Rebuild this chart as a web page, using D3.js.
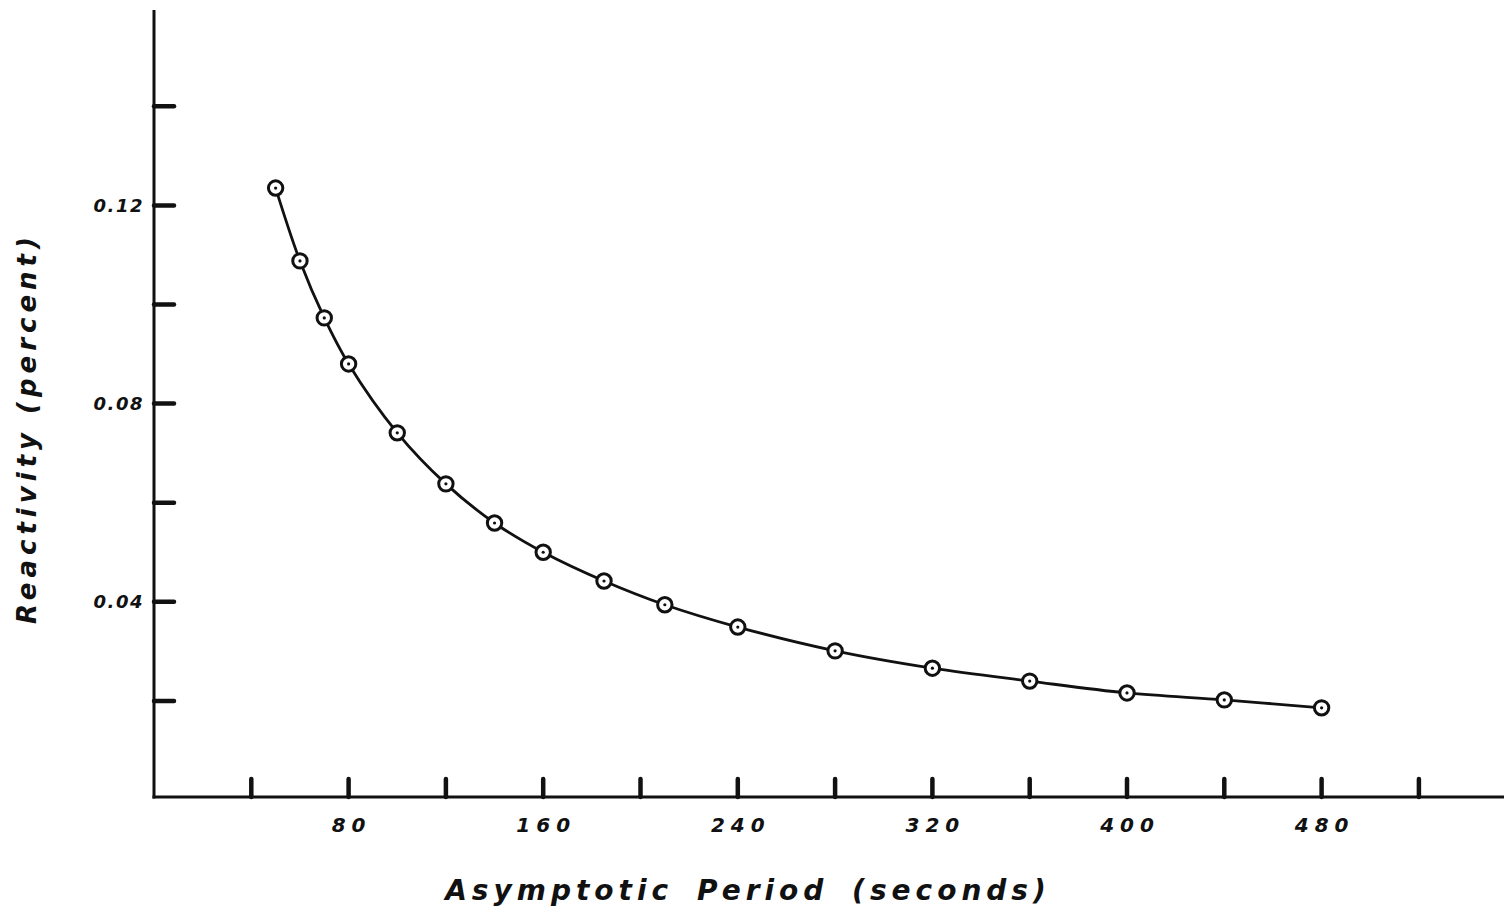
<!DOCTYPE html>
<html>
<head>
<meta charset="utf-8">
<script src="https://cdn.jsdelivr.net/npm/d3@7"></script>
<style>
  html, body { margin: 0; padding: 0; background: #fff; }
  svg { display: block; }
  text { font-family: "DejaVu Sans", sans-serif; font-style: italic; fill: #111; }
</style>
</head>
<body>
<div id="chart"></div>
<script>
// asymptotic period (s) and reactivity (percent)
const periods = [50, 60, 70, 80, 100, 120, 140, 160, 185, 210, 240, 280, 320, 360, 400, 440, 480];
const reactivity = [0.1235, 0.1088, 0.0973, 0.0880, 0.0741, 0.0638, 0.0559, 0.0500, 0.0442, 0.0394, 0.0349, 0.0301, 0.0266, 0.0240, 0.0216, 0.0202, 0.0186];

const xTicks = [40, 80, 120, 160, 200, 240, 280, 320, 360, 400, 440, 480, 520];
const xTickLabels = [80, 160, 240, 320, 400, 480];
const yTicks = [0.02, 0.04, 0.06, 0.08, 0.10, 0.12, 0.14];
const yTickLabels = [0.04, 0.08, 0.12];

document.addEventListener("DOMContentLoaded", function() {
    const width = 1504;
    const height = 916;
    const x0 = 154, y0 = 797;

    const svg = d3.select('#chart')
        .append('svg')
        .attr('width', width)
        .attr('height', height);

    const xScale = d3.scaleLinear().domain([0, 40]).range([x0, x0 + 97.3]);
    const yScale = d3.scaleLinear().domain([0, 0.02]).range([800, 800 - 99.1]);

    const ink = '#111';

    // axes lines
    svg.append('line')
        .attr('x1', x0).attr('x2', x0)
        .attr('y1', 10).attr('y2', y0 + 1.5)
        .attr('stroke', ink).attr('stroke-width', 3);
    svg.append('line')
        .attr('x1', x0 - 1.5).attr('x2', width)
        .attr('y1', y0).attr('y2', y0)
        .attr('stroke', ink).attr('stroke-width', 3);

    // y ticks point inward
    svg.append('g').selectAll('line')
        .data(yTicks)
        .join('line')
        .attr('x1', x0).attr('x2', x0 + 20)
        .attr('y1', d => yScale(d)).attr('y2', d => yScale(d))
        .attr('stroke', ink).attr('stroke-width', 4.5)
        .attr('stroke-linecap', 'round');

    svg.append('g').selectAll('text')
        .data(yTickLabels)
        .join('text')
        .attr('x', x0 - 10)
        .attr('y', d => yScale(d))
        .attr('dy', '0.36em')
        .attr('text-anchor', 'end')
        .attr('font-size', 18)
        .attr('font-weight', 'bold')
        .attr('letter-spacing', 1.5)
        .text(d => d.toFixed(2));

    // x ticks point up
    svg.append('g').selectAll('line')
        .data(xTicks)
        .join('line')
        .attr('x1', d => xScale(d)).attr('x2', d => xScale(d))
        .attr('y1', y0).attr('y2', y0 - 18)
        .attr('stroke', ink).attr('stroke-width', 4.5)
        .attr('stroke-linecap', 'round');

    svg.append('g').selectAll('text')
        .data(xTickLabels)
        .join('text')
        .attr('x', d => xScale(d) + 3)
        .attr('y', 832)
        .attr('text-anchor', 'middle')
        .attr('font-size', 20)
        .attr('font-weight', 'bold')
        .attr('letter-spacing', 6)
        .text(d => d);

    // axis titles
    svg.append('text')
        .attr('x', 748)
        .attr('y', 900)
        .attr('text-anchor', 'middle')
        .attr('font-size', 28)
        .attr('font-weight', 'bold')
        .attr('letter-spacing', 5)
        .attr('word-spacing', 9)
        .text('Asymptotic Period (seconds)');

    svg.append('text')
        .attr('transform', 'translate(36,428) rotate(-90)')
        .attr('text-anchor', 'middle')
        .attr('font-size', 26)
        .attr('font-weight', 'bold')
        .attr('letter-spacing', 5)
        .text('Reactivity (percent)');

    // curve
    const data = periods.map((p, i) => ({ p: p, r: reactivity[i] }));

    const line = d3.line()
        .x(d => xScale(d.p))
        .y(d => yScale(d.r))
        .curve(d3.curveCatmullRom);

    svg.append('path')
        .datum(data)
        .attr('d', line)
        .attr('fill', 'none')
        .attr('stroke', ink)
        .attr('stroke-width', 2.8);

    const pts = svg.append('g');
    pts.selectAll('circle.ring')
        .data(data)
        .join('circle')
        .attr('class', 'ring')
        .attr('cx', d => xScale(d.p))
        .attr('cy', d => yScale(d.r))
        .attr('r', 7.2)
        .attr('fill', '#fff')
        .attr('stroke', ink)
        .attr('stroke-width', 3);
    pts.selectAll('circle.dot')
        .data(data)
        .join('circle')
        .attr('class', 'dot')
        .attr('cx', d => xScale(d.p))
        .attr('cy', d => yScale(d.r))
        .attr('r', 1.6)
        .attr('fill', ink);
});
</script>
</body>
</html>
